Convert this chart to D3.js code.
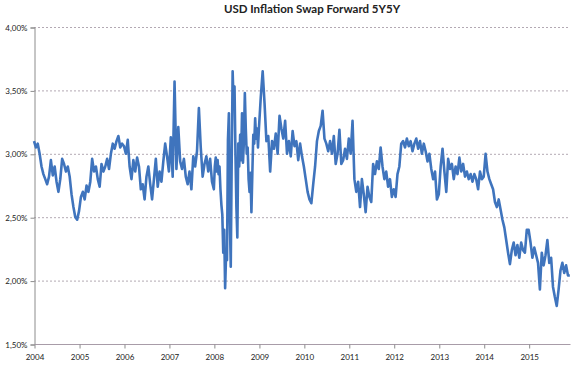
<!DOCTYPE html>
<html>
<head>
<meta charset="utf-8">
<script src="https://cdn.jsdelivr.net/npm/d3@7"></script>
<style>
  body { margin: 0; background: #fff; }
  text { font-family: Lato, "Open Sans", sans-serif; fill: #222; }
</style>
</head>
<body>
<script>
var chartWidth = 582,
  chartHeight = 368;

// semi-monthly readings (2008 weekly), in percent
var values2004 = [3.10, 3.05, 3.08, 3.00, 2.90, 2.84, 2.80, 2.76, 2.82, 2.95, 2.83, 2.90, 2.78, 2.70, 2.80, 2.96, 2.92, 2.86, 2.90, 2.82, 2.68, 2.58, 2.50, 2.48];
var values2005 = [2.55, 2.66, 2.70, 2.64, 2.75, 2.70, 2.78, 2.96, 2.86, 2.90, 2.80, 2.74, 2.92, 2.86, 2.90, 2.96, 2.88, 3.00, 3.08, 3.04, 3.10, 3.14, 3.05, 3.08];
var values2006 = [3.06, 3.00, 3.11, 2.90, 2.80, 2.95, 2.86, 2.97, 2.90, 2.72, 2.76, 2.64, 2.82, 2.90, 2.76, 2.64, 2.80, 2.96, 2.74, 2.86, 2.78, 2.94, 3.08, 2.98];
var values2007 = [2.86, 3.13, 2.82, 3.57, 2.88, 3.21, 2.94, 2.88, 2.96, 2.82, 2.76, 2.86, 2.72, 2.98, 2.90, 3.02, 3.36, 3.05, 2.82, 2.92, 2.98, 2.86, 2.96, 2.78];
var values2008 = [2.72, 2.90, 2.97, 2.86, 2.95, 2.84, 2.90, 2.72, 2.60, 2.52, 2.22, 2.40, 1.94, 2.20, 2.16, 3.11,
  3.32, 2.50, 2.11, 2.95, 3.65, 3.40, 3.53, 3.00, 2.58, 2.34, 3.08, 2.90, 3.15, 2.95, 3.32, 2.93,
  3.10, 3.48, 3.20, 3.00, 3.05, 2.80, 2.70, 2.85, 2.54, 2.85, 3.15, 3.08, 3.28, 3.12, 3.20, 3.05];
var values2009 = [3.20, 3.45, 3.65, 3.40, 3.10, 3.14, 2.86, 3.10, 3.04, 3.16, 3.00, 3.30, 3.20, 3.12, 3.26, 3.00, 3.10, 2.98, 3.18, 3.06, 3.10, 2.95, 3.08, 2.98];
var values2010 = [2.90, 2.80, 2.70, 2.64, 2.61, 2.76, 2.90, 3.10, 3.18, 3.22, 3.34, 3.12, 3.08, 3.02, 3.10, 3.00, 3.14, 2.92, 3.00, 3.19, 2.92, 2.95, 3.04, 2.96];
var values2011 = [3.12, 3.00, 3.26, 2.80, 2.70, 2.78, 2.58, 2.80, 2.68, 2.54, 2.74, 2.66, 2.62, 2.92, 2.84, 2.94, 2.88, 3.05, 2.90, 2.80, 2.86, 2.74, 2.80, 2.66];
var values2012 = [2.72, 2.66, 2.84, 2.90, 3.08, 3.10, 3.05, 3.12, 3.06, 3.10, 3.02, 3.08, 3.12, 3.04, 3.10, 3.00, 3.08, 3.02, 2.94, 3.00, 2.88, 2.80, 2.86, 2.64];
var values2013 = [2.68, 2.90, 3.04, 2.86, 2.70, 2.96, 2.88, 2.92, 2.80, 2.90, 2.84, 2.97, 2.86, 2.92, 2.82, 2.86, 2.80, 2.84, 2.78, 2.84, 2.80, 2.72, 2.86, 2.80];
var values2014 = [2.82, 3.00, 2.86, 2.80, 2.76, 2.72, 2.62, 2.58, 2.64, 2.56, 2.48, 2.42, 2.32, 2.22, 2.13, 2.24, 2.30, 2.20, 2.28, 2.18, 2.30, 2.24, 2.22, 2.40];
var values2015 = [2.40, 2.30, 2.18, 2.26, 2.20, 2.14, 1.93, 2.22, 2.12, 2.20, 2.32, 2.14, 2.18, 1.95, 1.87, 1.80, 1.93, 2.08, 2.14, 2.06, 2.12, 2.04, 2.04];

var years = [2004, 2005, 2006, 2007, 2008, 2009, 2010, 2011, 2012, 2013, 2014, 2015];
var yearly = [values2004, values2005, values2006, values2007, values2008, values2009,
  values2010, values2011, values2012, values2013, values2014, values2015];
var samplesPerYear = [24, 24, 24, 24, 48, 24, 24, 24, 24, 24, 24, 24];

var yTicks = [1.5, 2.0, 2.5, 3.0, 3.5, 4.0];
var title = 'USD Inflation Swap Forward 5Y5Y';
var lastDate = 2015.92;

function fracYear(f) {
  var y = Math.floor(f);
  var start = new Date(y, 0, 1), end = new Date(y + 1, 0, 1);
  return new Date(+start + (f - y) * (end - start));
}

var series = [];
yearly.forEach(function(vals, k) {
  vals.forEach(function(v, i) {
    series.push({ date: fracYear(years[k] + i / samplesPerYear[k]), value: v });
  });
});

var margin = { left: 34, right: 12, top: 27, bottom: 24 };

var x = d3.scaleTime()
  .domain([new Date(2004, 0, 1), fracYear(lastDate)])
  .range([margin.left, 570]);

var y = d3.scaleLinear()
  .domain([1.5, 4.0])
  .range([chartHeight - margin.bottom, margin.top]);

var locale = d3.formatLocale({ decimal: ',', thousands: '.', grouping: [3], currency: ['', ''] });
var pct = locale.format('.2f');

var svg = d3.select('body').append('svg')
  .attr('width', chartWidth)
  .attr('height', chartHeight);

// gridlines
svg.append('g').attr('class', 'grid')
  .selectAll('line')
  .data(yTicks.slice(1))
  .enter().append('line')
  .attr('x1', margin.left)
  .attr('x2', 570)
  .attr('y1', function(d) { return y(d) + 0.5; })
  .attr('y2', function(d) { return y(d) + 0.5; })
  .attr('stroke', '#b3a9b3')
  .attr('stroke-width', 1)
  .attr('stroke-dasharray', '2,2');

// y axis
var yAxis = svg.append('g')
  .attr('transform', 'translate(' + (margin.left + 0.5) + ',0.5)')
  .call(d3.axisLeft(y).tickValues(yTicks).tickSize(4).tickPadding(3)
    .tickFormat(function(d) { return pct(d) + '%'; }));
yAxis.select('.domain').attr('stroke', '#8c8c8c');
yAxis.selectAll('.tick line').attr('stroke', '#8c8c8c');
yAxis.selectAll('text').style('font-size', '8px').attr('fill', '#222');

// x axis
var xAxis = svg.append('g')
  .attr('transform', 'translate(0.5,' + (y(1.5) + 0.5) + ')')
  .call(d3.axisBottom(x).ticks(d3.timeYear.every(1)).tickSize(4).tickPadding(6)
    .tickFormat(d3.timeFormat('%Y')));
xAxis.select('.domain').attr('stroke', '#a89ca8').attr('d', 'M' + margin.left + ',0H570');
xAxis.selectAll('.tick line').attr('stroke', '#8c8c8c');
xAxis.selectAll('text').style('font-size', '8px').attr('fill', '#222');

// series
var line = d3.line()
  .x(function(d) { return x(d.date); })
  .y(function(d) { return y(d.value); });

svg.append('path')
  .datum(series)
  .attr('d', line)
  .attr('fill', 'none')
  .attr('stroke', '#3f74bd')
  .attr('stroke-width', 2.6)
  .attr('stroke-linejoin', 'round');

// title
svg.append('text')
  .attr('x', 312)
  .attr('y', 13)
  .attr('text-anchor', 'middle')
  .style('font-size', '11.5px')
  .style('font-weight', 'bold')
  .text(title);
</script>
</body>
</html>
